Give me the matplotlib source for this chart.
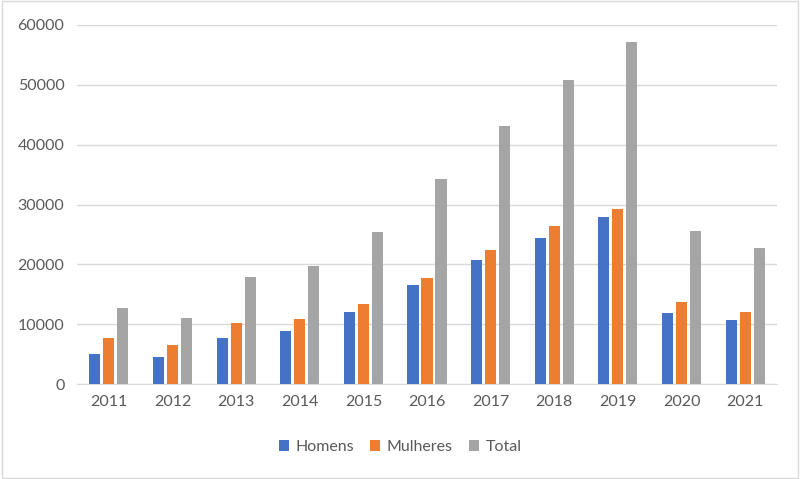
import numpy as np
import matplotlib.pyplot as plt
from matplotlib.patches import Rectangle

anos = ["2011", "2012", "2013", "2014", "2015", "2016", "2017", "2018", "2019", "2020", "2021"]
homens = [5000, 4500, 7750, 8850, 12100, 16550, 20700, 24450, 27850, 11800, 10650]
mulheres = [7700, 6500, 10200, 10800, 13300, 17750, 22350, 26350, 29250, 13700, 12100]
total = [12700, 11050, 17950, 19700, 25400, 34250, 43050, 50800, 57100, 25500, 22800]

plt.rcParams['font.family'] = ['Lato', 'DejaVu Sans']
txt = '#595959'

fig = plt.figure(figsize=(8, 4.79), dpi=100)
ax = fig.add_axes([77 / 800, 1 - 384 / 479, 700 / 800, 359 / 479])

x = np.arange(len(anos))
w = 0.175
ax.bar(x - 0.22, homens, w, color='#4472C4', label='Homens', zorder=3)
ax.bar(x, mulheres, w, color='#ED7D31', label='Mulheres', zorder=3)
ax.bar(x + 0.22, total, w, color='#A5A5A5', label='Total', zorder=3)

ax.set_xlim(-0.5, len(anos) - 0.5)
ax.set_ylim(0, 60000)
ax.set_yticks(np.arange(0, 60001, 10000))
ax.set_xticks(x)
ax.set_xticklabels(anos)
ax.grid(axis='y', color='#D9D9D9', linewidth=1, zorder=0)
for s in ['top', 'right', 'left']:
    ax.spines[s].set_visible(False)
ax.spines['bottom'].set_color('#D9D9D9')
ax.tick_params(length=0, colors=txt, labelsize=11.5)
ax.tick_params(axis='y', pad=9)
ax.tick_params(axis='x', pad=8)

fig.legend(loc='center', bbox_to_anchor=(0.5, 1 - 447 / 479), ncol=3, frameon=False,
           fontsize=11.5, handlelength=0.65, handleheight=0.65, columnspacing=1.0,
           handletextpad=0.4, labelcolor=txt)

fig.patches.append(Rectangle((0.002, 0.003), 0.996, 0.994, transform=fig.transFigure,
                             fill=False, edgecolor='#D9D9D9', linewidth=1))

fig.savefig('out.png', dpi=100)
